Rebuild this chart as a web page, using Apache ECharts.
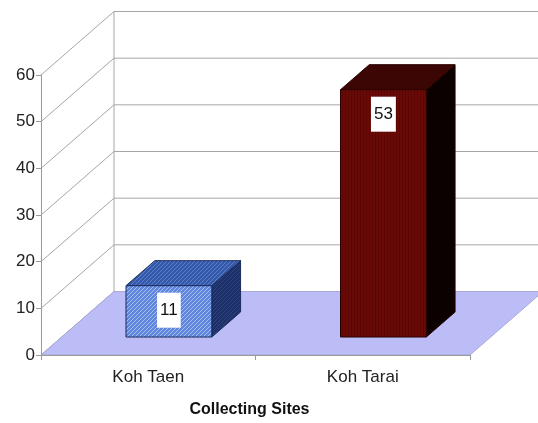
<!DOCTYPE html>
<html><head><meta charset="utf-8">
<script src="https://cdn.jsdelivr.net/npm/echarts@6/dist/echarts.min.js"></script>
<style>html,body{margin:0;padding:0;background:#fff}#c{width:538px;height:423px}</style>
</head><body><div id="c"></div>
<script>
const categories = ['Koh Taen', 'Koh Tarai'];
const values = [11, 53];
const yTicks = [0, 10, 20, 30, 40, 50, 60];
const axisTitle = 'Collecting Sites';

const DX = 73, DY = 63.5;          // depth of the 3D box
const F0 = 0.283, FD = 0.394;      // bar front position / bar depth (fractions)
const FONT = '"Liberation Sans", Arial, sans-serif';

function hatch(bg, line, w) {
  const c = document.createElement('canvas');
  c.width = 4; c.height = 4;
  const g = c.getContext('2d');
  g.fillStyle = bg; g.fillRect(0, 0, 4, 4);
  g.strokeStyle = line; g.lineWidth = w || 1;
  g.beginPath(); g.moveTo(-1, 5); g.lineTo(5, -1); g.stroke();
  g.beginPath(); g.moveTo(-1, 1); g.lineTo(1, -1); g.stroke();
  g.beginPath(); g.moveTo(3, 5); g.lineTo(5, 3); g.stroke();
  return { image: c, repeat: 'repeat' };
}
function vstripe(bg, line) {
  const c = document.createElement('canvas');
  c.width = 3; c.height = 3;
  const g = c.getContext('2d');
  g.fillStyle = bg; g.fillRect(0, 0, 3, 3);
  g.fillStyle = line; g.fillRect(0, 0, 1, 3);
  return { image: c, repeat: 'repeat' };
}
const styles = [
  { front: hatch('#5f86dc', '#a4c0f6', 1), top: hatch('#3559a8', '#5a7fcc', 1), side: hatch('#1d3068', '#2c4282', 1), stroke: '#1b2b5c' },
  { front: vstripe('#6a0a06', '#5a0604'), top: '#3b0604', side: '#0b0100', stroke: '#2a0000' }
];

const chart = echarts.init(document.getElementById('c'), null, { renderer: 'canvas' });
chart.setOption({
  animation: false,
  backgroundColor: '#fff',
  grid: { left: 41, right: 68, top: 75, bottom: 63 },
  xAxis: {
    type: 'category', data: categories, z: 5,
    axisLine: { lineStyle: { color: '#9a9a9a', width: 1 } },
    axisTick: { show: true, alignWithLabel: false, length: 5, lineStyle: { color: '#9a9a9a' } },
    axisLabel: { fontFamily: FONT, fontSize: 17, color: '#222', margin: 14 },
    name: axisTitle, nameLocation: 'middle', nameGap: 47,
    nameTextStyle: { fontFamily: FONT, fontSize: 16, fontWeight: 'bold', color: '#111', padding: [0, 12, 0, 0] }
  },
  yAxis: {
    type: 'value', min: 0, max: 60, interval: 10, z: 5,
    axisLine: { show: true, lineStyle: { color: '#9a9a9a', width: 1 } },
    axisTick: { show: true, length: 5, lineStyle: { color: '#9a9a9a' } },
    axisLabel: { fontFamily: FONT, fontSize: 17, color: '#222', margin: 6 },
    splitLine: { show: false }
  },
  series: [
    {
      type: 'custom', z: 1, silent: true, clip: false,
      data: yTicks.map(v => [0, v]),
      renderItem: function (params, api) {
        const cs = params.coordSys;
        const y = api.coord([0, api.value(1)])[1];
        const ls = { stroke: '#a6a6a6', lineWidth: 1 };
        const children = [
          { type: 'line', shape: { x1: cs.x, y1: y, x2: cs.x + DX, y2: y - DY }, style: ls },
          { type: 'line', shape: { x1: cs.x + DX, y1: y - DY, x2: cs.x + cs.width + DX, y2: y - DY }, style: ls }
        ];
        if (params.dataIndex === 0) {
          children.push({ type: 'line', shape: { x1: cs.x + DX, y1: cs.y - DY, x2: cs.x + DX, y2: cs.y + cs.height - DY }, style: ls });
        }
        return { type: 'group', children: children };
      }
    },
    {
      type: 'custom', z: 2, silent: true, clip: false,
      data: [[0, 0]],
      renderItem: function (params, api) {
        const cs = params.coordSys;
        const y0 = api.coord([0, 0])[1];
        return {
          type: 'polygon',
          shape: { points: [[cs.x, y0], [cs.x + cs.width, y0], [cs.x + cs.width + DX, y0 - DY], [cs.x + DX, y0 - DY]] },
          style: { fill: '#bcbcf7', stroke: '#a9a9d8', lineWidth: 1 }
        };
      }
    },
    {
      type: 'custom', z: 3, clip: false,
      data: values.map((v, i) => [i, v]),
      renderItem: function (params, api) {
        const i = api.value(0), v = api.value(1);
        const p0 = api.coord([i, 0]), p1 = api.coord([i, v]);
        const bw = api.size([1, 0])[0] * 0.4;
        const ox = F0 * DX, oy = F0 * DY;
        const d = FD * DX, dd = FD * DY;
        const xl = p0[0] - bw / 2 + ox, xr = xl + bw;
        const yb = p0[1] - oy, yt = p1[1] - oy;
        const s = styles[i];
        return {
          type: 'group',
          children: [
            { type: 'polygon', shape: { points: [[xr, yt], [xr + d, yt - dd], [xr + d, yb - dd], [xr, yb]] }, style: { fill: s.side, stroke: s.stroke, lineWidth: 1 } },
            { type: 'polygon', shape: { points: [[xl, yt], [xr, yt], [xr + d, yt - dd], [xl + d, yt - dd]] }, style: { fill: s.top, stroke: s.stroke, lineWidth: 1 } },
            { type: 'rect', shape: { x: xl, y: yt, width: bw, height: yb - yt }, style: { fill: s.front, stroke: s.stroke, lineWidth: 1 } },
            { type: 'text', x: (xl + xr) / 2, y: yt + 7,
              style: { text: String(v), fill: '#111', font: '17px ' + FONT, align: 'center', verticalAlign: 'top',
                       backgroundColor: '#fff', padding: [8, 3, 7, 3], lineHeight: 20 } }
          ]
        };
      }
    }
  ]
});
</script></body></html>
